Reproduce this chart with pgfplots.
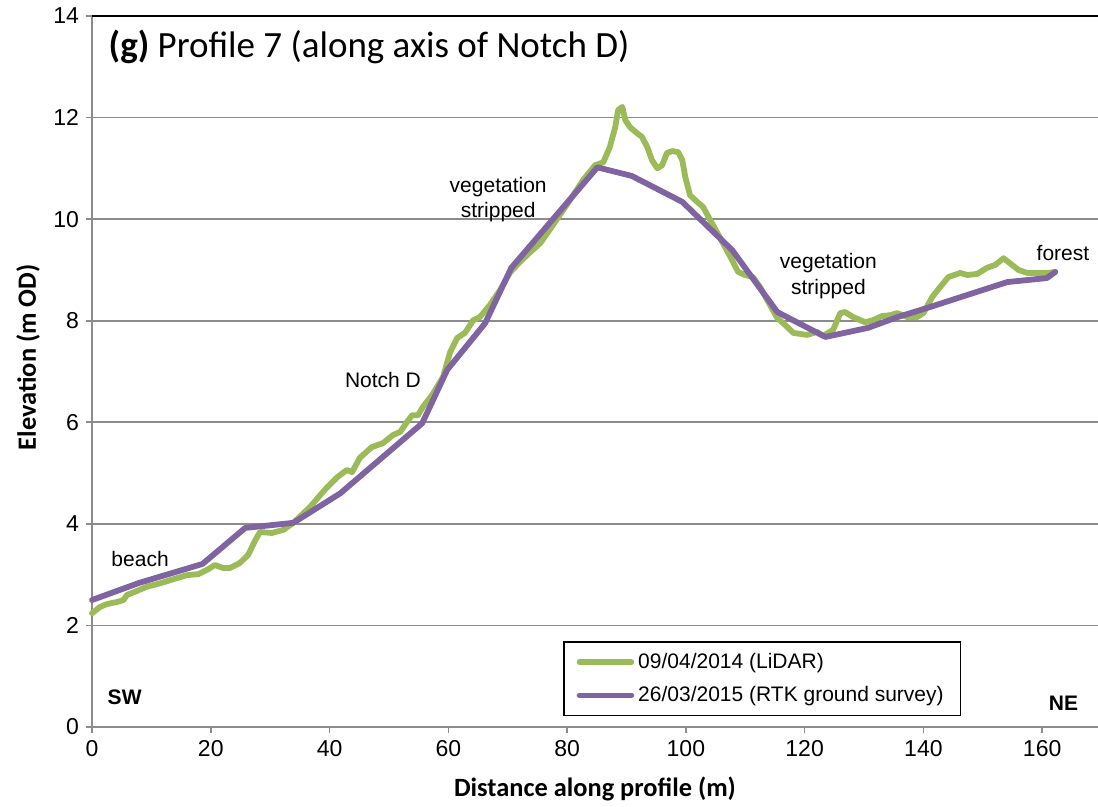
\documentclass[border=0pt]{standalone}
\usepackage{pgfplots}
\pgfplotsset{compat=1.18}
\usepackage{fontspec}
\setmainfont{Liberation Sans}
\newfontfamily\calibri{Carlito}
\definecolor{lidar}{HTML}{9BBB59}
\definecolor{rtk}{HTML}{8064A2}
\definecolor{gridgray}{HTML}{8C8C8C}
\begin{document}
\begin{tikzpicture}
\useasboundingbox (-46pt,-40pt) rectangle (503pt,363.5pt);
\begin{axis}[
  at={(0,0)}, anchor=south west,
  scale only axis, width=503pt, height=355.5pt,
  xmin=0, xmax=169.4, ymin=0, ymax=14,
  xtick={0,20,...,160}, ytick={0,2,...,14},
  axis x line*=bottom, axis y line*=left,
  axis line style={gridgray, line width=1.2pt, -},
  tick align=outside, major tick length=3pt,
  tick style={gridgray, line width=0.8pt},
  ymajorgrids, grid style={gridgray, line width=0.8pt},
  tick label style={font=\fontsize{11.5}{13}\selectfont},
  /pgf/number format/assume math mode=true,
  xlabel={\calibri\bfseries Distance along profile (m)},
  ylabel={\calibri\bfseries Elevation (m OD)},
  xlabel style={at={(axis description cs:0.5,-0.087)}, anchor=center, font=\fontsize{13.2}{15}\selectfont},
  ylabel style={at={(axis description cs:-0.0636,0.52)}, anchor=center, font=\fontsize{13.2}{15}\selectfont},
  legend style={at={(axis cs:79.3,1.69)}, anchor=north west, draw=black, line width=0.8pt,
     font=\fontsize{10.5}{12.6}\selectfont, inner xsep=6.5pt, inner ysep=3.5pt, row sep=3.5pt,
     legend cell align=left},
  legend image code/.code={\draw[#1, line width=2.75pt] (0pt,0pt) -- (26pt,0pt);},
  clip=false,
]
\addplot[lidar, line width=2.9pt, line join=round, line cap=round] coordinates {
(0,2.24)(1.3,2.36)(2.5,2.42)(4.2,2.46)(5.3,2.5)(5.9,2.6)(7.6,2.68)(9.2,2.76)(11.5,2.83)(13.7,2.91)(16,2.99)(17.9,3.01)(19.3,3.09)(20.7,3.19)(22.1,3.13)(23.2,3.13)(24.9,3.23)(26.3,3.39)(27.5,3.68)(28.3,3.84)(30.3,3.82)(32.2,3.88)(33.9,4.02)(36.7,4.33)(39.2,4.67)(41.3,4.92)(42.9,5.06)(43.8,5.02)(45.1,5.3)(47.1,5.51)(49,5.59)(50.7,5.75)(51.9,5.81)(53,6.0)(53.9,6.14)(54.9,6.14)(55.7,6.3)(57.3,6.54)(59.1,6.89)(60.3,7.38)(61.5,7.66)(62.8,7.76)(64.2,8.01)(65.3,8.07)(67,8.31)(68.7,8.6)(70.4,8.95)(72,9.15)(73.8,9.35)(75.5,9.53)(77.6,9.88)(80.8,10.43)(82.7,10.77)(84.7,11.06)(86.1,11.12)(87.2,11.42)(88.1,11.81)(88.6,12.15)(89.3,12.21)(89.8,11.95)(90.6,11.81)(91.8,11.69)(92.6,11.62)(93.5,11.42)(94.3,11.16)(95.2,11.0)(96,11.06)(96.8,11.3)(97.7,11.34)(98.7,11.32)(99.4,11.16)(99.9,10.83)(100.7,10.47)(101.9,10.34)(102.9,10.24)(104.1,9.98)(105.3,9.73)(106.6,9.45)(107.8,9.19)(108.8,8.96)(110,8.9)(111.3,8.86)(112.5,8.66)(115.4,8.05)(116.4,7.95)(118.1,7.76)(120.4,7.72)(122.1,7.78)(123.1,7.7)(124.8,7.82)(126,8.15)(126.8,8.17)(128.2,8.07)(130.2,7.97)(131.5,8.01)(133,8.09)(134.4,8.11)(135.6,8.15)(137.3,8.07)(138.9,8.07)(140,8.15)(141.5,8.47)(142.8,8.66)(144.2,8.86)(146.2,8.94)(147.4,8.9)(149,8.92)(150.7,9.04)(152.1,9.1)(153.5,9.23)(154.6,9.13)(156,9.0)(157.5,8.94)(159.2,8.94)(160.8,8.94)(162.2,8.96)
};
\addlegendentry{09/04/2014 (LiDAR)}
\addplot[rtk, line width=2.9pt, line join=round, line cap=round] coordinates {
(0,2.5)(8,2.84)(18.6,3.21)(25.8,3.92)(33.9,4.02)(41.8,4.6)(48.5,5.27)(55.6,5.98)(59.8,7.03)(66.2,7.95)(70.6,9.04)(85.1,11.02)(90.9,10.85)(99.4,10.34)(107.8,9.39)(115.4,8.17)(123.5,7.68)(130.7,7.86)(135.6,8.07)(140.6,8.25)(154.1,8.76)(160.8,8.84)(162.2,8.96)
};
\addlegendentry{26/03/2015 (RTK ground survey)}
\draw[black, line width=1pt] (rel axis cs:0,1) -- (rel axis cs:1,1);
\node[anchor=west, font=\calibri\fontsize{18.5}{22}\selectfont] at (axis cs:1.6,13.39) {\textbf{(g)} Profile 7 (along axis of Notch D)};
\node[font=\fontsize{10.5}{12.6}\selectfont] at (axis cs:8.1,3.31) {beach};
\node[font=\fontsize{10.5}{12.6}\selectfont] at (axis cs:49,6.83) {Notch D};
\node[font=\fontsize{10.5}{12.6}\selectfont, align=center] at (axis cs:68.4,10.38) {vegetation\\stripped};
\node[font=\fontsize{10.5}{12.6}\selectfont, align=center] at (axis cs:124,8.88) {vegetation\\stripped};
\node[font=\fontsize{10.5}{12.6}\selectfont] at (axis cs:163.5,9.33) {forest};
\node[font=\bfseries\fontsize{10.5}{12.6}\selectfont] at (axis cs:5.5,0.59) {SW};
\node[font=\bfseries\fontsize{10.5}{12.6}\selectfont] at (axis cs:163.6,0.47) {NE};
\end{axis}
\end{tikzpicture}
\end{document}
